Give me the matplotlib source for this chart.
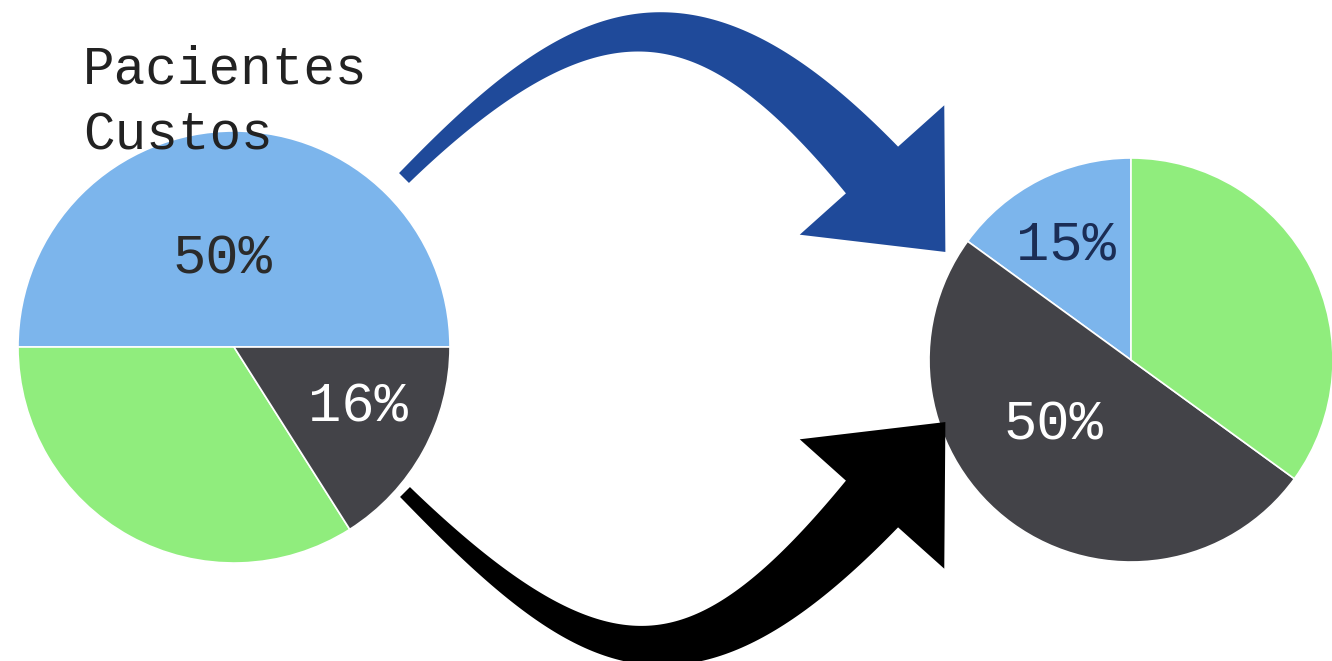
import numpy as np
import matplotlib
matplotlib.use("Agg")
import matplotlib.pyplot as plt
from matplotlib.patches import Polygon

# ---- data ----
series_names = ["Pacientes", "Custos"]
left_values = [50, 34, 16]          # blue, green, dark (counter-clockwise from 0 deg)
left_labels = ["50%", "", "16%"]
right_values = [15, 50, 35]         # blue, dark, green (counter-clockwise from 90 deg)
right_labels = ["15%", "50%", ""]

BLUE = "#7cb5ec"
GREEN = "#90ed7d"
DARK = "#434348"
ARROW_BLUE = "#1f4a9a"
ARROW_BLACK = "#000000"

W, H = 1332, 661
fig = plt.figure(figsize=(W / 100, H / 100), dpi=100)
ax = fig.add_axes([0, 0, 1, 1])
ax.set_xlim(0, W)
ax.set_ylim(0, H)
ax.axis("off")

FONT = "Liberation Mono"

def Y(y):  # pixel-from-top -> data
    return H - y

wp = dict(edgecolor="white", linewidth=1.2)

# left pie
wl, _ = ax.pie(left_values, colors=[BLUE, GREEN, DARK], startangle=0,
               counterclock=True, center=(234, Y(347)), radius=216,
               wedgeprops=wp, frame=True)
# right pie
wr, _ = ax.pie(right_values, colors=[BLUE, DARK, GREEN], startangle=90,
               counterclock=True, center=(1131, Y(360)), radius=202,
               wedgeprops=wp, frame=True)
ax.set_xlim(0, W)
ax.set_ylim(0, H)
ax.set_aspect("equal")
ax.axis("off")

# percentage labels
ax.text(222, Y(260), left_labels[0], fontsize=40, family=FONT, color="#2b2b2b",
        ha="center", va="center")
ax.text(358, Y(408), left_labels[2], fontsize=40, family=FONT, color="white",
        ha="center", va="center")
ax.text(1066, Y(246), right_labels[0], fontsize=40, family=FONT, color="#1b2d55",
        ha="center", va="center")
ax.text(1053, Y(426), right_labels[1], fontsize=40, family=FONT, color="white",
        ha="center", va="center")

# legend-like series names
ax.text(83, Y(84), series_names[0], fontsize=38, family=FONT, color="#222222",
        ha="left", va="baseline")
ax.text(83, Y(149), series_names[1], fontsize=38, family=FONT, color="#222222",
        ha="left", va="baseline")


def curved_arrow(p0, d0, p3, d3, L, w0, w1, half_base, head_len, color):
    p0 = np.array(p0, float); p3 = np.array(p3, float)
    d0 = np.array(d0, float); d0 /= np.linalg.norm(d0)
    d3 = np.array(d3, float); d3 /= np.linalg.norm(d3)
    p1 = p0 + L * d0
    p2 = p3 - L * d3
    t = np.linspace(0, 1, 120)[:, None]
    pts = ((1 - t) ** 3) * p0 + 3 * ((1 - t) ** 2) * t * p1 + 3 * (1 - t) * t ** 2 * p2 + t ** 3 * p3
    der = 3 * ((1 - t) ** 2) * (p1 - p0) + 6 * (1 - t) * t * (p2 - p1) + 3 * t ** 2 * (p3 - p2)
    der /= np.linalg.norm(der, axis=1)[:, None]
    nrm = np.column_stack([-der[:, 1], der[:, 0]])
    w = w0 + (w1 - w0) * t[:, 0] ** 1.2
    left = pts + nrm * (w[:, None] / 2)
    right = pts - nrm * (w[:, None] / 2)
    n3 = np.array([-d3[1], d3[0]])
    head = [p3 + n3 * half_base, p3 + d3 * head_len, p3 - n3 * half_base]
    poly = np.vstack([left, head, right[::-1]])
    poly[:, 1] = H - poly[:, 1]
    ax.add_patch(Polygon(poly, closed=True, facecolor=color, edgecolor="none"))

# blue arrow (pixel coords, y down)
curved_arrow((404, 178), (0.7, -0.7), (872, 170), (0.667, 0.745), 260,
             14, 70, 97, 110, ARROW_BLUE)
# black arrow
curved_arrow((405, 492), (0.7, 0.7), (872, 504), (0.667, -0.745), 270,
             14, 70, 97, 110, ARROW_BLACK)

fig.savefig("out.png", dpi=100, facecolor="white")
